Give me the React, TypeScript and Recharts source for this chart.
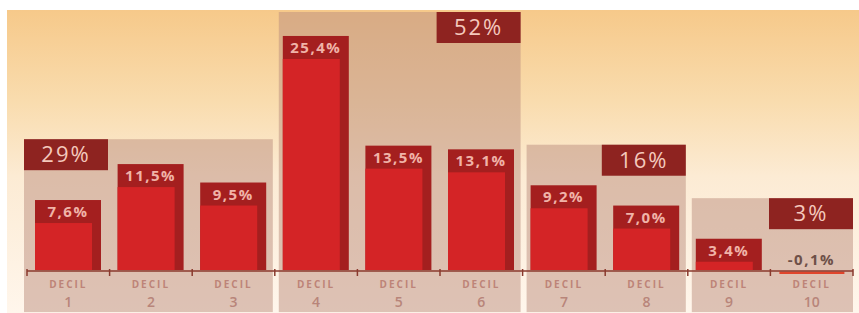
import React from 'react';
import { BarChart, Bar, XAxis, YAxis, ReferenceArea } from 'recharts';

const deciles = ['1', '2', '3', '4', '5', '6', '7', '8', '9', '10'];
const shares = [7.6, 11.5, 9.5, 25.4, 13.5, 13.1, 9.2, 7.0, 3.4, -0.1];

const groupLabels = ['29%', '52%', '16%', '3%'];
const groupFirst = ['1', '4', '7', '9'];
const groupLast = ['3', '6', '8', '10'];
const groupLevels = [14.2, 28, 13.6, 7.8];

const data = deciles.map((d, i) => ({ decil: d, share: shares[i] }));

const DARK = '#a41f1f';
const RED = '#d42426';
const PINK = '#f0b3a8';
const FONT = '"Open Sans", sans-serif';

const fmt = (v: number) => v.toFixed(1).replace('.', ',') + '%';

const BarShape = (props: any) => {
  const { x, y, width, height, value } = props;
  const v = Array.isArray(value) ? value[1] - value[0] : value;
  const top = Math.min(y, y + height);
  const bottom = Math.max(y, y + height);
  const h = Math.abs(height);
  if (v < 0) {
    return (
      <g>
        <rect x={x + 1} y={bottom + 0.5} width={width - 1} height={2.5} fill="#e0452c" />
        <text x={x + width / 2} y={top - 5} textAnchor="middle" fontFamily={FONT} fontWeight={700}
          fontSize={15} letterSpacing={1.5} fill="#6e5048">{fmt(v)}</text>
      </g>
    );
  }
  const band = 23;
  return (
    <g>
      <rect x={x} y={top} width={width} height={h} fill={DARK} />
      <rect x={x} y={top + band} width={width - 9} height={Math.max(h - band, 0)} fill={RED} />
      <text x={x + width / 2} y={top + 17} textAnchor="middle" fontFamily={FONT} fontWeight={700}
        fontSize={15} letterSpacing={1.5} fill={PINK}>{fmt(v)}</text>
    </g>
  );
};

const makeBackdrop = (i: number) => (props: any) => {
  const { x, y, width, height } = props;
  const left = i === 0 ? x - 3 : x + 4;
  const right = x + width - (i === groupLabels.length - 1 ? 0 : 2);
  const boxW = 84;
  const boxX = i === 0 ? left : right - boxW;
  return (
    <g>
      <rect x={left} y={y} width={right - left} height={height + 42} fill="rgb(187,141,126)" fillOpacity={0.5} />
      <rect x={boxX} y={y} width={boxW} height={31} fill="#8e2320" />
      <text x={boxX + boxW / 2} y={y + 23} textAnchor="middle" fontFamily={FONT} fontSize={22}
        letterSpacing={2} fill="#f4c8bc">{groupLabels[i]}</text>
    </g>
  );
};

const DecilTick = (props: any) => {
  const { x, y, payload, index } = props;
  const half = payload?.offset || 41.3;
  const last = index === deciles.length - 1;
  return (
    <g>
      <line x1={x - half} x2={x - half} y1={y - 2} y2={y + 5} stroke="#8a3a2e" strokeWidth={1.5} />
      {last && <line x1={x + half} x2={x + half} y1={y - 2} y2={y + 5} stroke="#8a3a2e" strokeWidth={1.5} />}
      <text x={x} y={y + 17} textAnchor="middle" fontFamily={FONT} fontWeight={700} fontSize={10}
        letterSpacing={2} fill="#bd8478">DECIL</text>
      <text x={x} y={y + 36} textAnchor="middle" fontFamily={FONT} fontWeight={600} fontSize={14}
        fill="#b8857a">{payload.value}</text>
    </g>
  );
};

export default function App() {
  return (
    <div style={{ position: 'absolute', left: 0, top: 0, width: 859, height: 313, background: '#fff' }}>
      <div style={{
        position: 'absolute', left: 7, top: 10, right: 0, bottom: 0,
        background: 'linear-gradient(to bottom, #f6c98a 0%, #f9dcae 30%, #fcebd4 55%, #fff6ec 100%)',
      }} />
      <div style={{ position: 'absolute', left: 0, top: 0 }}>
        <BarChart width={859} height={313} data={data} margin={{ top: 12, right: 6, left: 27, bottom: 2 }}>
          <YAxis hide type="number" domain={[-0.1, 28]} scale="linear" />
          <XAxis dataKey="decil" height={40} tickLine={false} tickSize={0} tickMargin={0}
            axisLine={{ stroke: '#8a3a2e', strokeWidth: 1.5 }} tick={<DecilTick />} interval={0} />
          {groupLabels.map((g, i) => (
            <ReferenceArea key={g} x1={groupFirst[i]} x2={groupLast[i]} y1={0} y2={groupLevels[i]}
              shape={makeBackdrop(i)} ifOverflow="visible" />
          ))}
          <Bar dataKey="share" barSize={66} shape={<BarShape />} isAnimationActive={false} />
        </BarChart>
      </div>
    </div>
  );
}
